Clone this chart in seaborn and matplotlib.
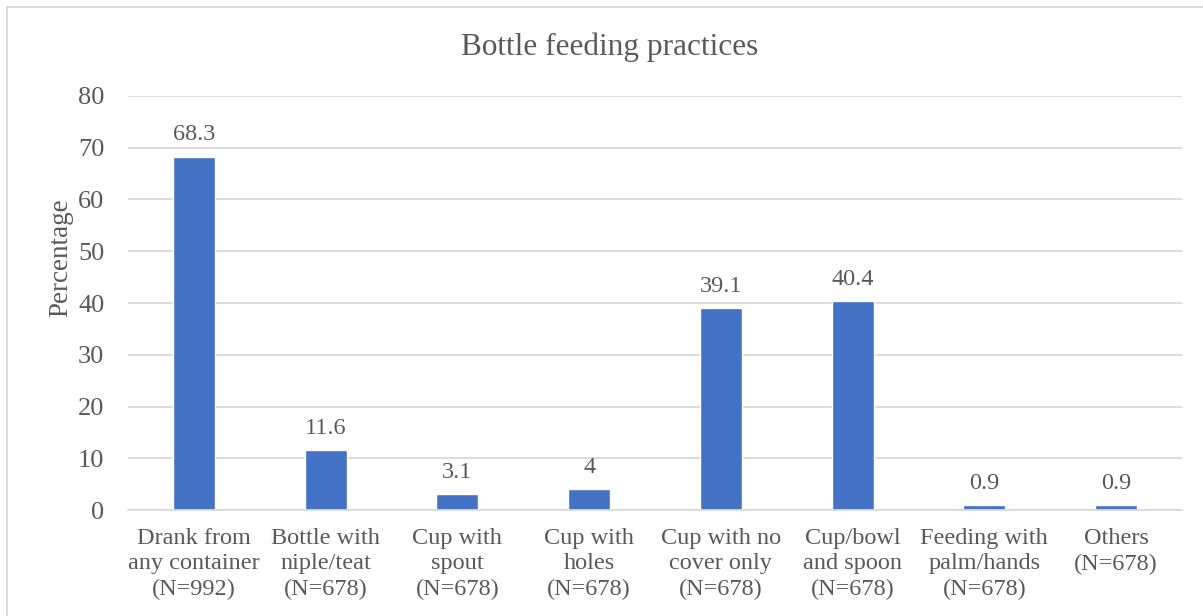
import matplotlib
matplotlib.use("Agg")
import matplotlib.pyplot as plt
import matplotlib.patches as mpatches
import seaborn as sns
import pandas as pd

categories = [
    "Drank from\nany container\n(N=992)",
    "Bottle with\nniple/teat\n(N=678)",
    "Cup with\nspout\n(N=678)",
    "Cup with\nholes\n(N=678)",
    "Cup with no\ncover only\n(N=678)",
    "Cup/bowl\nand spoon\n(N=678)",
    "Feeding with\npalm/hands\n(N=678)",
    "Others\n(N=678)",
]
values = [68.3, 11.6, 3.1, 4, 39.1, 40.4, 0.9, 0.9]
value_labels = ["68.3", "11.6", "3.1", "4", "39.1", "40.4", "0.9", "0.9"]
yticks = [0, 10, 20, 30, 40, 50, 60, 70, 80]

sns.set_theme(style="white")
plt.rcParams["font.family"] = ["Liberation Serif", "DejaVu Serif"]

TEXT = "#595959"
GRID = "#d9d9d9"
BAR = "#4472c4"

df = pd.DataFrame({"category": categories, "value": values})

fig = plt.figure(figsize=(12.03, 6.16), dpi=100)
ax = fig.add_axes([0.1064, 0.172, 0.8761, 0.6722])

sns.barplot(data=df, x="category", y="value", color=BAR, width=0.32,
            saturation=1, ax=ax)

ax.set_ylim(0, 80)
ax.set_yticks(yticks)
ax.set_yticklabels([str(t) for t in yticks], fontsize=19, color=TEXT)
ax.tick_params(axis="x", labelsize=17.5, labelcolor=TEXT, length=0, pad=13)
ax.tick_params(axis="y", length=0, pad=17)
for lbl in ax.get_xticklabels():
    lbl.set_linespacing(1.27)
ax.yaxis.grid(True, color=GRID, linewidth=1.3)
ax.set_axisbelow(True)
for s in ["top", "right", "left"]:
    ax.spines[s].set_visible(False)
ax.spines["bottom"].set_color(GRID)
ax.spines["bottom"].set_linewidth(1.3)

ax.set_xlabel("")
ax.set_ylabel("Percentage", fontsize=19.5, color=TEXT)
ax.yaxis.set_label_coords(-0.052, 0.61)

ax.bar_label(ax.containers[0], labels=value_labels, padding=8,
             fontsize=17.5, color=TEXT)

fig.text(0.507, 0.924, "Bottle feeding practices", ha="center", va="center",
         fontsize=22.5, color=TEXT)

# outer chart border
fig.patches.append(mpatches.Rectangle((7 / 1203, -0.02), 1.05, 1 - 7 / 616 + 0.02,
                                      transform=fig.transFigure, fill=False,
                                      edgecolor=GRID, linewidth=1.3))

fig.savefig("out.png", dpi=100)
